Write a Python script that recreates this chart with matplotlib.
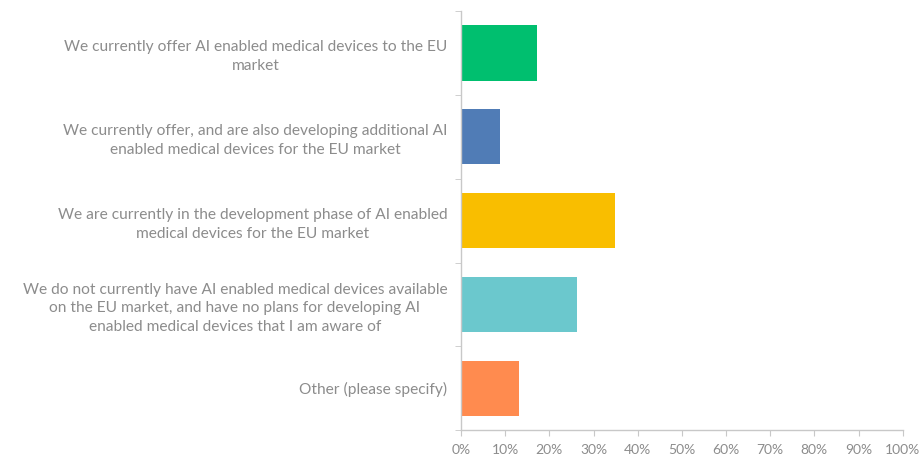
import matplotlib.pyplot as plt
import numpy as np
from matplotlib.ticker import FixedLocator, PercentFormatter

plt.rcParams['font.family'] = ['Lato', 'DejaVu Sans']

# Answer options, top to bottom
answers = [
    'We currently offer AI enabled medical devices to the EU\nmarket',
    'We currently offer, and are also developing additional AI\nenabled medical devices for the EU market',
    'We are currently in the development phase of AI enabled\nmedical devices for the EU market',
    'We do not currently have AI enabled medical devices available\non the EU market, and have no plans for developing AI\nenabled medical devices that I am aware of',
    'Other (please specify)',
]
shares = [17.3, 8.7, 34.8, 26.2, 13.2]
colors = ['#00BF6F', '#507CB6', '#F9BE00', '#6BC8CD', '#FF8B4F']

text_grey = '#8C8C8C'
line_grey = '#C8C8C8'

fig = plt.figure(figsize=(9.24, 4.62), dpi=100)
ax = fig.add_axes([0.499, 0.069, 0.478, 0.907])

y = np.arange(len(answers))
ax.barh(y, shares, height=0.66, color=colors)

ax.set_xlim(0, 100)
ax.set_ylim(len(answers) - 0.5, -0.5)
ax.xaxis.set_major_locator(FixedLocator(np.arange(0, 101, 10)))
ax.xaxis.set_major_formatter(PercentFormatter(decimals=0))

ax.set_yticks(y)
ax.set_yticklabels(answers, multialignment='center', linespacing=1.4)
ax.yaxis.set_minor_locator(FixedLocator(np.arange(-0.5, len(answers), 1)))

for side in ['top', 'right']:
    ax.spines[side].set_visible(False)
for side in ['left', 'bottom']:
    ax.spines[side].set_color(line_grey)
    ax.spines[side].set_linewidth(1)

ax.tick_params(axis='y', which='major', length=0, pad=10, labelsize=11.2, labelcolor=text_grey)
ax.tick_params(axis='y', which='minor', length=4, color=line_grey, direction='out')
ax.tick_params(axis='x', which='major', length=4, color=line_grey, pad=6, labelsize=10, labelcolor=text_grey)

fig.savefig('out.png', dpi=100, facecolor='white')
